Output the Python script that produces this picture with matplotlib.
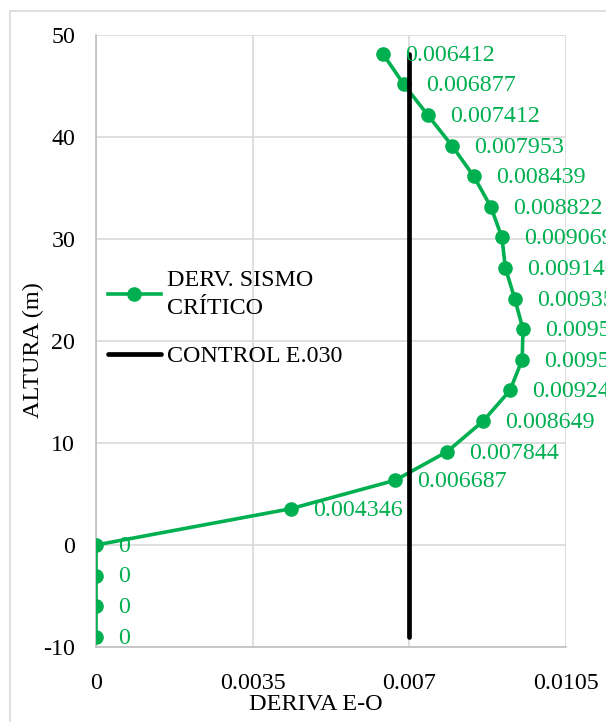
import matplotlib
matplotlib.use("Agg")
import matplotlib.pyplot as plt
from matplotlib.patches import Rectangle

# ---- data ----
heights = [-9, -6, -3, 0, 3.55, 6.35, 9.15, 12.15, 15.15, 18.15, 21.15,
           24.15, 27.15, 30.15, 33.15, 36.15, 39.15, 42.15, 45.15, 48.15]
drift = [0, 0, 0, 0, 0.004346, 0.006687, 0.007844, 0.008649, 0.009247,
         0.009521, 0.009539, 0.009355, 0.009146, 0.009069, 0.008822,
         0.008439, 0.007953, 0.007412, 0.006877, 0.006412]
drift_labels = ["0", "0", "0", "0", "0.004346", "0.006687", "0.007844",
                "0.008649", "0.009247", "0.009521", "0.009539", "0.009355",
                "0.009146", "0.009069", "0.008822", "0.008439", "0.007953",
                "0.007412", "0.006877", "0.006412"]
control_x = [0.007, 0.007]
control_y = [-9, 48.15]
x_ticks = [0, 0.0035, 0.007, 0.0105]
x_tick_labels = ["0", "0.0035", "0.007", "0.0105"]
y_ticks = [-10, 0, 10, 20, 30, 40, 50]
y_tick_labels = ["-10", "0", "10", "20", "30", "40", "50"]
series_name = "DERV. SISMO\nCRÍTICO"
control_name = "CONTROL E.030"

GREEN = "#00B050"
plt.rcParams['font.family'] = ['Liberation Serif', 'DejaVu Serif']
plt.rcParams['axes.unicode_minus'] = False
FS = 17.3

fig = plt.figure(figsize=(6.06, 7.22), dpi=100)
fig.patches.append(Rectangle((10/606, -0.05), 1.0, 1 - 11/722 + 0.05,
                             transform=fig.transFigure, fill=False,
                             edgecolor="#D9D9D9", linewidth=1.2))
ax = fig.add_axes([96/606, 75/722, 470/606, 612/722])

ax.plot(drift, heights, color=GREEN, linewidth=2.6, marker='o',
        markersize=9.5, label=series_name, zorder=3)
ax.plot(control_x, control_y, color='black', linewidth=3.4,
        solid_capstyle='round', label=control_name, zorder=4)

for xv, yv, lab in zip(drift, heights, drift_labels):
    ax.annotate(lab, (xv, yv), xytext=(16, -1), textcoords='offset points',
                ha='left', va='center', color=GREEN, fontsize=FS, zorder=5)

ax.set_xlim(0, 0.0105)
ax.set_ylim(-10, 50)
ax.set_xticks(x_ticks)
ax.set_xticklabels(x_tick_labels)
ax.set_yticks(y_ticks)
ax.set_yticklabels(y_tick_labels)
ax.tick_params(axis='both', length=0, labelsize=FS)
ax.tick_params(axis='x', pad=19)
ax.tick_params(axis='y', pad=15)
ax.grid(True, color="#D9D9D9", linewidth=1.2)
ax.set_axisbelow(True)
for s in ['top', 'right']:
    ax.spines[s].set_visible(False)
for s in ['left', 'bottom']:
    ax.spines[s].set_color("#BFBFBF")
    ax.spines[s].set_linewidth(1.2)

ax.set_xlabel("DERIVA E-O", fontsize=17.5)
ax.xaxis.set_label_coords((316 - 96) / 470, -(694 - 647) / 612)
ax.set_ylabel("ALTURA (m)", fontsize=17.5)
ax.yaxis.set_label_coords(-(96 - 44) / 470, (647 - 350) / 612)

leg = ax.legend(loc='upper left', bbox_to_anchor=(108/606, 1 - 270/722),
                bbox_transform=fig.transFigure, frameon=False, fontsize=FS,
                borderpad=0, borderaxespad=0, handlelength=2.2,
                handletextpad=0.25, labelspacing=1.1)
for t in leg.get_texts():
    t.set_linespacing(1.45)

fig.savefig("out.png", dpi=100)
